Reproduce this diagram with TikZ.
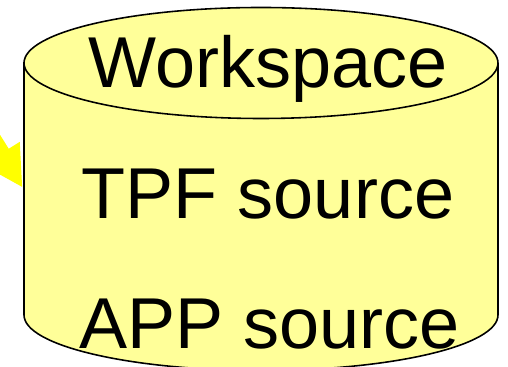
\documentclass[tikz,border=0pt]{standalone}
\usepackage{fontspec}
\setmainfont{Liberation Sans}
\usetikzlibrary{shapes.arrows}
\definecolor{storeFill}{HTML}{FFFF99}
\definecolor{feedYellow}{HTML}{FFFF00}
\tikzset{
myStore/.style={
	draw=black, line width=0.9pt, fill=storeFill
}
, myLabel/.style={
	anchor=base, inner sep=0pt, text=black,
	font=\fontsize{41}{48}\selectfont
}
% incoming arrow
, myFeed/.style={
	single arrow, fill=feedYellow, draw=none,
	inner sep=0pt, inner ysep=0.17cm, minimum height=3cm,
	single arrow head extend=0.26cm, single arrow tip angle=58,
	rotate=-58, anchor=tip
}
}

\begin{document}
\begin{tikzpicture}
	\useasboundingbox (0,0) rectangle (10.16,7.34);
	\clip (0,0) rectangle (10.16,7.34);
	% arrow into the store
	\coordinate (Inlet) at (0.45,3.59);
	\node[myFeed] (Feed) at (Inlet) {};
	% store
	\coordinate (TopW) at (0.48,6.08);
	\coordinate (TopE) at (9.96,6.08);
	\coordinate (BotW) at (0.48,1.04);
	\draw[myStore] (TopW) -- (BotW)
		arc[start angle=180, end angle=360, x radius=4.74, y radius=1.11]
		-- (TopE)
		arc[start angle=0, end angle=180, x radius=4.74, y radius=1.11] -- cycle;
	\draw[myStore, fill=none] (TopW)
		arc[start angle=180, end angle=360, x radius=4.74, y radius=1.11];
	% labels
	\node[myLabel] (Workspace) at (5.37,5.58) {Workspace};
	\node[myLabel] (TPF) at (5.36,2.96) {TPF source};
	\node[myLabel] (APP) at (5.39,0.36) {APP source};
\end{tikzpicture}
\end{document}
